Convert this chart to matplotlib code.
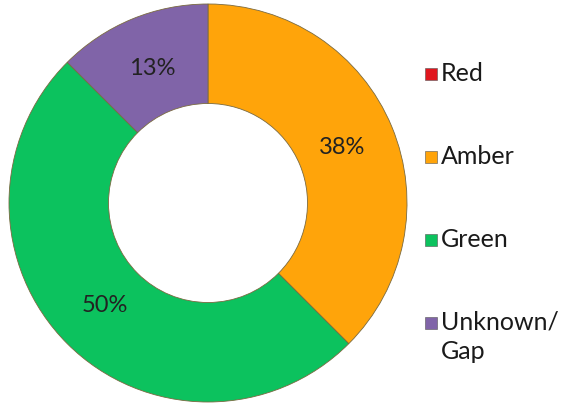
import matplotlib.pyplot as plt
from matplotlib.patches import Rectangle

labels = ['Red', 'Amber', 'Green', 'Unknown/\nGap']
values = [0, 3, 4, 1]
colors = ['#E0161E', '#FFA40A', '#0CC25E', '#8064A8']

plt.rcParams['font.family'] = ['Lato', 'DejaVu Sans']

W, H = 578, 403


def pct(p):
    if p < 0.5:
        return ''
    return '%d%%' % int(p + 0.5)


fig = plt.figure(figsize=(W / 100, H / 100), dpi=100)
ax = fig.add_axes([9 / W, 1 / H, 398 / W, 398 / H])
wedges, texts, autotexts = ax.pie(values, colors=colors, startangle=90, counterclock=False,
                                  radius=1, autopct=pct, pctdistance=0.73,
                                  wedgeprops=dict(width=0.5, edgecolor='#7a6a40', linewidth=0.6),
                                  textprops=dict(fontsize=17, color='#222222'))
ax.set_xlim(-1, 1)
ax.set_ylim(-1, 1)
ax.set_aspect('equal')

# legend drawn by hand so the marker sits on the first line of "Unknown/ Gap"
for i, (lab, col) in enumerate(zip(labels, colors)):
    yc = 74 + i * 83
    fig.patches.append(Rectangle((425 / W, 1 - (yc + 6) / H), 12 / W, 12 / H,
                                 transform=fig.transFigure, facecolor=col,
                                 edgecolor='#555555', linewidth=0.4))
    fig.text(441 / W, 1 - (yc - 12) / H, lab, fontsize=18, va='top', ha='left',
             color='#1a1a1a', linespacing=1.3)

plt.savefig('out.png', dpi=100)
